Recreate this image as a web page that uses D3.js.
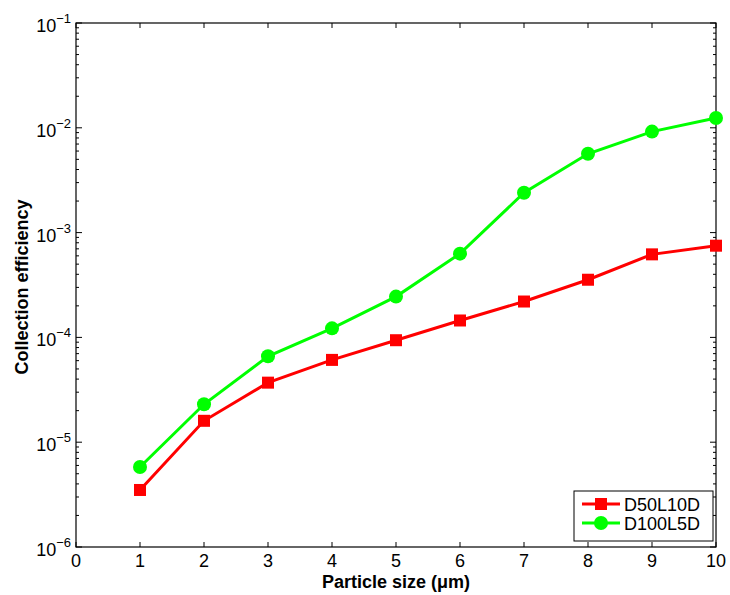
<!DOCTYPE html>
<html>
<head>
<meta charset="utf-8">
<script src="https://cdnjs.cloudflare.com/ajax/libs/d3/7.8.5/d3.min.js"></script>
<style>
  body { margin: 0; background: #fff; }
  text { font-family: "Liberation Sans", Arial, sans-serif; }
</style>
</head>
<body>
<svg id="chart" width="730" height="595"></svg>
<script>
// particle sizes (um)
let sizes = [1, 2, 3, 4, 5, 6, 7, 8, 9, 10];
let d50l10d = [3.5e-6, 1.6e-5, 3.7e-5, 6.1e-5, 9.4e-5, 1.45e-4, 2.2e-4, 3.55e-4, 6.2e-4, 7.5e-4];
let d100l5d = [5.8e-6, 2.3e-5, 6.6e-5, 1.22e-4, 2.45e-4, 6.3e-4, 2.4e-3, 5.65e-3, 9.2e-3, 1.24e-2];
let xTicks = [0, 1, 2, 3, 4, 5, 6, 7, 8, 9, 10];
let yExponents = [-6, -5, -4, -3, -2, -1];

let margin = { top: 23, right: 14, bottom: 48, left: 76 };
let svg = d3.select("#chart");
let width = 730 - margin.left - margin.right;
let height = 595 - margin.top - margin.bottom;

let g = svg.append("g")
    .attr("transform", "translate(" + margin.left + "," + margin.top + ")");

let x = d3.scaleLinear().domain([0, 10]).range([0, width]);
let y = d3.scaleLog().domain([1e-6, 1e-1]).range([height, 0]);

// minor ticks for the log axis
let minorVals = [];
for (let e = -6; e < -1; e++) {
    for (let m = 2; m <= 9; m++) minorVals.push(m * Math.pow(10, e));
}

// frame
g.append("rect")
    .attr("width", width).attr("height", height)
    .attr("fill", "none").attr("stroke", "#000").attr("stroke-width", 1.2);

// x ticks (bottom and top, pointing inwards)
xTicks.forEach(function(t) {
    g.append("line").attr("x1", x(t)).attr("x2", x(t))
        .attr("y1", height).attr("y2", height - 5).attr("stroke", "#000");
    g.append("line").attr("x1", x(t)).attr("x2", x(t))
        .attr("y1", 0).attr("y2", 5).attr("stroke", "#000");
    g.append("text").attr("x", x(t)).attr("y", height + 20)
        .attr("text-anchor", "middle").attr("font-size", 18).text(t);
});

// y ticks
yExponents.forEach(function(e) {
    let v = Math.pow(10, e);
    g.append("line").attr("x1", 0).attr("x2", 6)
        .attr("y1", y(v)).attr("y2", y(v)).attr("stroke", "#000");
    g.append("line").attr("x1", width).attr("x2", width - 6)
        .attr("y1", y(v)).attr("y2", y(v)).attr("stroke", "#000");
    let t = g.append("text").attr("x", -5).attr("y", y(v) + 9)
        .attr("text-anchor", "end").attr("font-size", 18);
    t.append("tspan").text("10");
    t.append("tspan").attr("dy", -9).attr("font-size", 13).text("\u2212" + Math.abs(e));
});
minorVals.forEach(function(v) {
    g.append("line").attr("x1", 0).attr("x2", 3)
        .attr("y1", y(v)).attr("y2", y(v)).attr("stroke", "#000");
    g.append("line").attr("x1", width).attr("x2", width - 3)
        .attr("y1", y(v)).attr("y2", y(v)).attr("stroke", "#000");
});

// axis titles
g.append("text").attr("x", width / 2).attr("y", height + 41)
    .attr("text-anchor", "middle").attr("font-size", 18).attr("font-weight", "bold")
    .text("Particle size (\u03bcm)");
g.append("text")
    .attr("transform", "translate(" + (-48) + "," + (height / 2 + 2) + ") rotate(-90)")
    .attr("text-anchor", "middle").attr("font-size", 18).attr("font-weight", "bold")
    .text("Collection efficiency");

let line = d3.line()
    .x(function(d, i) { return x(sizes[i]); })
    .y(function(d) { return y(d); });

// red series
g.append("path").datum(d50l10d)
    .attr("fill", "none").attr("stroke", "#ff0000").attr("stroke-width", 3)
    .attr("d", line);
g.selectAll(".sq").data(d50l10d).enter().append("rect")
    .attr("x", function(d, i) { return x(sizes[i]) - 6; })
    .attr("y", function(d) { return y(d) - 6; })
    .attr("width", 12).attr("height", 12).attr("fill", "#ff0000");

// green series
g.append("path").datum(d100l5d)
    .attr("fill", "none").attr("stroke", "#00ff00").attr("stroke-width", 3)
    .attr("d", line);
g.selectAll(".ci").data(d100l5d).enter().append("circle")
    .attr("cx", function(d, i) { return x(sizes[i]); })
    .attr("cy", function(d) { return y(d); })
    .attr("r", 7).attr("fill", "#00ff00");

// legend
let lg = svg.append("g").attr("transform", "translate(574,491)");
lg.append("rect").attr("width", 139).attr("height", 50)
    .attr("fill", "#fff").attr("stroke", "#000").attr("stroke-width", 1);
lg.append("line").attr("x1", 8).attr("x2", 46).attr("y1", 13).attr("y2", 13)
    .attr("stroke", "#ff0000").attr("stroke-width", 3);
lg.append("rect").attr("x", 21).attr("y", 7).attr("width", 12).attr("height", 12).attr("fill", "#ff0000");
lg.append("text").attr("x", 50).attr("y", 19.5).attr("font-size", 18).text("D50L10D");
lg.append("line").attr("x1", 8).attr("x2", 46).attr("y1", 32).attr("y2", 32)
    .attr("stroke", "#00ff00").attr("stroke-width", 3);
lg.append("circle").attr("cx", 27).attr("cy", 32).attr("r", 7).attr("fill", "#00ff00");
lg.append("text").attr("x", 50).attr("y", 38.5).attr("font-size", 18).text("D100L5D");
</script>
</body>
</html>
